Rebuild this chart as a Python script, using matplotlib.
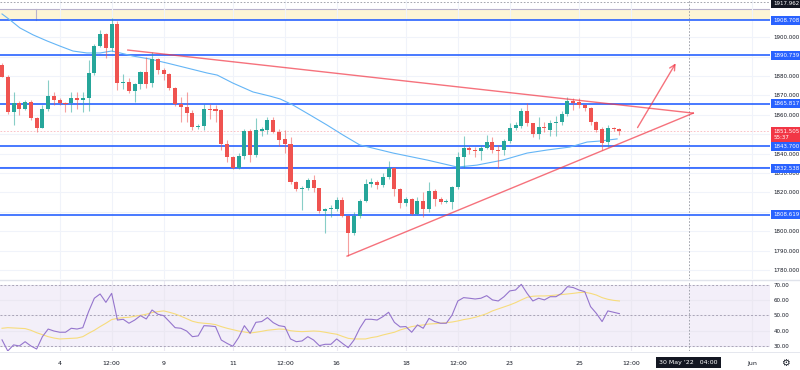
import matplotlib.pyplot as plt
import matplotlib.transforms as mtransforms
from matplotlib.lines import Line2D
import numpy as np

# 4H candles (index 0 = first visible candle)
opens = [1885.7, 1879.7, 1861.6, 1866.1, 1862.9, 1866.8, 1858.5, 1853.4, 1863.0, 1869.7,
         1867.7, 1866.2, 1866.0, 1868.5, 1867.5, 1868.5, 1881.4, 1895.6, 1901.5, 1894.3,
         1906.8, 1876.3, 1877.1, 1872.3, 1875.7, 1881.9, 1876.2, 1888.8, 1883.3, 1881.1,
         1873.7, 1865.6, 1864.2, 1860.8, 1853.9, 1854.2, 1863.0, 1862.8, 1862.5, 1845.0,
         1838.4, 1832.4, 1839.0, 1851.7, 1839.3, 1851.5, 1852.2, 1857.3, 1851.3, 1847.4,
         1845.0, 1825.2, 1821.7, 1822.4, 1826.4, 1822.1, 1810.6, 1811.4, 1811.3, 1816.1,
         1807.9, 1798.9, 1807.9, 1815.6, 1824.4, 1825.5, 1823.8, 1827.8, 1832.6, 1821.6,
         1814.7, 1816.5, 1808.9, 1815.7, 1811.3, 1820.9, 1816.5, 1815.3, 1815.3, 1822.6,
         1838.1, 1843.1, 1842.0, 1841.4, 1843.1, 1846.1, 1841.7, 1841.7, 1846.5, 1853.4,
         1854.3, 1861.8, 1855.6, 1850.0, 1853.9, 1852.0, 1855.6, 1856.2, 1860.3, 1867.2,
         1866.8, 1865.1, 1863.4, 1856.2, 1852.6, 1845.8, 1853.4, 1852.7]
highs = [1886.7, 1880.5, 1871.9, 1867.1, 1867.5, 1867.5, 1859.0, 1865.1, 1877.8, 1871.6,
         1868.5, 1866.5, 1871.9, 1871.9, 1871.6, 1888.3, 1896.5, 1903.5, 1902.3, 1909.8,
         1908.5, 1881.0, 1879.0, 1876.5, 1882.5, 1890.0, 1892.6, 1889.3, 1884.0, 1881.5,
         1874.2, 1869.0, 1871.6, 1862.5, 1855.5, 1865.6, 1865.6, 1865.0, 1863.0, 1847.0,
         1839.0, 1840.4, 1852.7, 1852.7, 1858.2, 1854.0, 1859.0, 1858.7, 1852.5, 1852.2,
         1848.7, 1826.0, 1823.5, 1827.5, 1829.0, 1822.5, 1812.0, 1813.5, 1817.5, 1817.5,
         1808.5, 1810.0, 1816.5, 1826.8, 1827.3, 1826.5, 1830.0, 1836.2, 1833.0, 1822.5,
         1817.5, 1817.0, 1817.5, 1820.4, 1825.3, 1822.0, 1817.5, 1816.5, 1823.5, 1841.0,
         1849.3, 1844.0, 1843.5, 1844.5, 1849.6, 1848.4, 1844.5, 1847.5, 1855.6, 1856.5,
         1863.4, 1866.0, 1856.0, 1859.0, 1856.4, 1857.5, 1859.6, 1862.0, 1869.3, 1868.5,
         1868.5, 1865.5, 1864.0, 1857.0, 1853.5, 1854.8, 1854.0, 1853.4]
lows = [1879.5, 1860.4, 1854.8, 1859.9, 1862.5, 1857.3, 1851.0, 1853.0, 1862.1, 1865.1,
        1865.0, 1861.6, 1861.6, 1862.9, 1861.6, 1862.0, 1880.8, 1894.8, 1889.5, 1893.0,
        1872.8, 1873.3, 1871.5, 1866.5, 1873.3, 1874.0, 1874.5, 1881.0, 1878.0, 1872.8,
        1864.6, 1856.5, 1856.5, 1852.2, 1852.5, 1852.2, 1857.7, 1856.5, 1841.9, 1835.9,
        1832.0, 1832.0, 1837.2, 1835.5, 1838.4, 1849.0, 1850.0, 1850.5, 1844.0, 1840.2,
        1824.3, 1820.8, 1811.0, 1821.5, 1820.4, 1809.3, 1799.3, 1807.2, 1810.5, 1807.5,
        1787.2, 1798.0, 1807.0, 1815.0, 1823.0, 1822.0, 1823.0, 1826.8, 1818.2, 1812.0,
        1813.0, 1808.5, 1808.5, 1807.5, 1810.0, 1813.0, 1814.0, 1814.5, 1811.3, 1822.0,
        1832.4, 1840.0, 1838.5, 1836.7, 1842.5, 1840.5, 1832.5, 1839.5, 1845.5, 1852.0,
        1853.0, 1854.5, 1848.4, 1847.4, 1851.0, 1849.0, 1849.0, 1855.0, 1859.6, 1862.5,
        1863.5, 1862.0, 1855.0, 1851.0, 1841.9, 1843.6, 1851.5, 1849.6]
closes = [1879.7, 1861.6, 1866.1, 1862.9, 1866.8, 1858.5, 1853.4, 1863.0, 1869.7, 1867.7,
          1866.0, 1865.8, 1868.5, 1867.5, 1868.5, 1881.4, 1895.6, 1901.5, 1894.3, 1906.8,
          1876.3, 1877.1, 1872.3, 1875.7, 1881.9, 1875.7, 1888.8, 1883.3, 1881.1, 1873.7,
          1865.6, 1864.2, 1860.8, 1853.9, 1854.3, 1863.0, 1862.4, 1861.8, 1845.0, 1838.4,
          1832.4, 1839.0, 1851.7, 1839.3, 1852.2, 1852.6, 1857.3, 1851.3, 1847.0, 1845.0,
          1825.2, 1821.6, 1822.4, 1826.4, 1822.1, 1810.6, 1811.3, 1811.8, 1816.1, 1807.9,
          1798.9, 1807.9, 1815.6, 1824.4, 1825.5, 1823.8, 1827.8, 1832.6, 1821.6, 1814.7,
          1816.5, 1808.9, 1815.7, 1811.3, 1820.9, 1816.5, 1815.3, 1815.6, 1822.6, 1838.1,
          1843.1, 1842.0, 1841.4, 1843.1, 1846.1, 1841.7, 1841.5, 1846.5, 1853.4, 1854.8,
          1861.8, 1855.6, 1850.0, 1853.9, 1853.2, 1855.6, 1856.0, 1860.3, 1867.1, 1866.3,
          1865.1, 1863.4, 1856.2, 1852.2, 1845.3, 1853.4, 1852.6, 1851.5]

rsi = [34.0, 26.7, 30.7, 30.0, 32.8, 30.0, 28.0, 36.1, 41.1, 39.8,
       39.0, 39.0, 41.6, 41.1, 42.0, 52.5, 61.3, 64.1, 58.6, 64.5,
       47.0, 47.5, 44.9, 47.0, 49.9, 47.7, 53.6, 50.8, 49.9, 46.0,
       42.0, 41.6, 39.8, 36.1, 36.6, 43.3, 43.1, 42.7, 33.9, 31.7,
       29.8, 35.5, 43.3, 38.3, 45.5, 46.0, 48.6, 45.3, 43.3, 42.7,
       34.6, 32.8, 33.3, 36.1, 33.9, 30.2, 31.1, 31.1, 34.6, 31.7,
       28.9, 33.9, 41.6, 47.5, 47.5, 47.0, 49.2, 52.1, 45.5, 42.5,
       42.7, 39.0, 43.8, 41.6, 48.1, 46.0, 44.9, 44.9, 50.3, 59.5,
       61.7, 61.3, 60.8, 61.3, 63.0, 60.2, 59.5, 62.3, 66.1, 66.7,
       70.4, 64.5, 59.5, 61.3, 60.2, 62.3, 62.3, 64.5, 68.9, 68.3,
       66.7, 65.6, 55.8, 51.4, 46.0, 53.0, 52.1, 51.2]
rsi_ma = [41.6, 42.0, 41.8, 41.6, 41.4, 40.3, 38.7, 37.4, 36.1, 35.2,
          34.6, 34.8, 35.0, 35.2, 36.1, 38.3, 40.3, 42.7, 44.9, 47.3,
          48.1, 48.6, 48.8, 49.5, 50.1, 50.8, 51.9, 52.5, 53.0, 52.1,
          51.0, 49.5, 47.9, 46.2, 45.3, 44.9, 44.6, 44.0, 42.7, 41.6,
          40.7, 39.8, 39.2, 38.5, 39.0, 39.6, 40.3, 40.7, 41.1, 40.9,
          40.0, 39.6, 39.4, 39.6, 39.8, 39.6, 39.0, 38.3, 37.7, 36.3,
          35.0, 34.6, 34.6, 34.6, 35.5, 36.1, 37.2, 38.1, 39.0, 40.5,
          41.6, 42.7, 43.3, 43.8, 44.4, 44.6, 44.9, 45.3, 45.7, 46.4,
          47.3, 47.9, 48.8, 49.9, 51.2, 53.0, 54.3, 55.6, 56.9, 58.4,
          60.2, 61.9, 62.6, 62.8, 62.8, 63.0, 63.4, 63.7, 64.1, 64.5,
          65.0, 65.2, 64.5, 63.4, 61.7, 60.6, 59.9, 59.5]

# moving average (blue) read at these candle positions
ma_idx = [0, 1.4, 3.1, 5.4, 7.8, 10, 12.3, 14.7, 17, 19, 20.5, 22.7, 25.6, 28.6, 32,
          35.5, 37.3, 40, 43.5, 46.4, 48.2, 50.4, 53.4, 56.3, 59.1, 62, 67.8, 73.7,
          78.9, 82.3, 86.8, 91, 94.5, 98.4, 101.4, 103.6, 106.6]
ma_val = [1912.0, 1908.9, 1904.8, 1901.2, 1898.1, 1895.5, 1892.9, 1891.9, 1891.9, 1892.9,
          1891.9, 1890.3, 1888.8, 1886.7, 1884.2, 1881.6, 1880.5, 1876.4, 1871.8, 1869.7,
          1868.2, 1865.1, 1859.9, 1854.8, 1849.6, 1844.5, 1840.3, 1836.7, 1833.1, 1834.1,
          1836.7, 1840.3, 1841.9, 1843.4, 1846.0, 1846.5, 1847.6]

levels = [1908.708, 1890.739, 1865.817, 1843.700, 1832.538, 1808.619]
zone = [1908.708, 1914.4]
last_price = 1851.505
cross_price = 1917.962
cross_idx = 119

upper_x, upper_y = [21.8, 119.8], [1893.4, 1860.9]
lower_x, lower_y = [59.8, 119.8], [1787.2, 1860.9]
arrow_x, arrow_y = [109.9, 117.0], [1852.2, 1887.8]

price_ticks = [1780, 1790, 1800, 1810, 1820, 1830, 1840, 1850, 1860, 1870, 1880, 1890, 1900]
hidden_ticks = [1850, 1890]   # covered by the level boxes in the original
tick_pos = [10, 19, 28, 40, 49, 58, 70, 79, 88, 100, 109, 130]
tick_lbl = ['4', '12:00', '9', '11', '12:00', '16', '18', '12:00', '23', '25', '12:00', 'Jun']

green = '#26a69a'
red = '#ef5350'
lvl_blue = '#2962ff'
txt = '#131722'

fig = plt.figure(figsize=(8, 3.7), dpi=100)
ax = fig.add_axes([0, 1 - 279 / 370, 770 / 800, 279 / 370])
ax2 = fig.add_axes([0, 19 / 370, 770 / 800, 70 / 370])

n = len(opens)
xs = np.arange(n)

# grid
ax.set_xlim(-0.35, 133.1)
ax.set_ylim(1775.4, 1919.2)
ax.set_yticks(price_ticks)
ax.set_yticklabels(['' if v in hidden_ticks else '%.3f' % v for v in price_ticks])
ax.set_xticks(tick_pos)
ax.set_xticklabels([])
ax.grid(color='#f0f3fa', lw=0.8)
ax.yaxis.tick_right()
ax.tick_params(axis='y', length=0, labelsize=4, pad=2.5, labelcolor=txt)
ax.tick_params(axis='x', length=0)
for s in ax.spines.values():
    s.set_visible(False)

# zone at top
ax.axhspan(zone[0], zone[1], color='#fdf5d6', lw=0, zorder=1)
ax.axhline(zone[1], color='#b9b3cc', lw=0.8, zorder=1.5)
ax.plot([5.9, 5.9], zone, color='#b9b3cc', lw=0.8)

# crosshair
ax.axhline(cross_price, color='#9598a1', lw=0.6, ls=(0, (2, 2)))
ax.axvline(cross_idx, color='#9598a1', lw=0.6, ls=(0, (2, 2)))
ax.axhline(last_price, color='#f23645', lw=0.6, ls=(0, (2, 2)), alpha=0.35)

for lv in levels:
    ax.axhline(lv, color=lvl_blue, lw=1.2, zorder=2)
ax.axhline(1833.2, color='#90a8ff', lw=0.8, alpha=0.6, zorder=1.8)

ax.plot(ma_idx, ma_val, color='#64b5f6', lw=0.8, zorder=3)

# candles
for i in range(n):
    o, h, l, c = opens[i], highs[i], lows[i], closes[i]
    col = green if c >= o else red
    ax.vlines(i, l, h, color=col, lw=0.8, alpha=0.55, zorder=4)
    ax.bar(i, max(abs(c - o), 0.5), bottom=min(o, c), width=0.7, color=col, lw=0, zorder=5)

# triangle and arrow
ax.plot(upper_x, upper_y, color='#f23645', lw=1, alpha=0.7, zorder=6)
ax.plot(lower_x, lower_y, color='#f23645', lw=1, alpha=0.7, zorder=6)
ax.annotate('', xy=(arrow_x[1], arrow_y[1]), xytext=(arrow_x[0], arrow_y[0]),
            arrowprops=dict(arrowstyle='->', color='#f23645', lw=1, alpha=0.7), zorder=6)

# price axis labels
tr = mtransforms.blended_transform_factory(ax.transAxes, ax.transData)
for lv in levels:
    ax.text(1.004, lv, '%.3f' % lv, transform=tr, fontsize=4, color='white', ha='left', va='center',
            clip_on=False, zorder=10,
            bbox=dict(boxstyle='square,pad=0.35', fc=lvl_blue, ec='none'))
ax.text(1.004, 1849.9, '%.3f\n55:37' % last_price, transform=tr, fontsize=4, color='white',
        ha='left', va='center', clip_on=False, zorder=10, linespacing=1.3,
        bbox=dict(boxstyle='square,pad=0.35', fc='#f23645', ec='none'))
ax.text(1.004, 1917.6, '%.3f' % cross_price, transform=tr, fontsize=4, color='white',
        ha='left', va='center', clip_on=False, zorder=10,
        bbox=dict(boxstyle='square,pad=0.35', fc=txt, ec='none'))

# RSI pane
ax2.set_xlim(-0.35, 133.1)
ax2.set_ylim(26.7, 72.6)
ax2.axhspan(30, 70, color='#7e57c2', alpha=0.09, lw=0)
ax2.set_yticks([30, 40, 50, 60, 70])
ax2.set_yticklabels(['%.2f' % v for v in [30, 40, 50, 60, 70]])
ax2.set_xticks(tick_pos)
ax2.set_xticklabels(tick_lbl)
ax2.grid(color='#ebe8f2', lw=0.8)
ax2.yaxis.tick_right()
ax2.tick_params(axis='y', length=0, labelsize=4, pad=2.5, labelcolor=txt)
ax2.tick_params(axis='x', length=0, labelsize=4.5, pad=7, labelcolor=txt)
for s in ax2.spines.values():
    s.set_visible(False)
for v in [30, 50, 70]:
    ax2.axhline(v, color='#a9a4b8', lw=0.7, ls=(0, (2, 2)))
ax2.axvline(cross_idx, color='#9598a1', lw=0.6, ls=(0, (2, 2)))
ax2.plot(xs, rsi_ma, color='#f7dc7c', lw=0.8)
ax2.plot(xs, rsi, color='#9575cd', lw=0.8)

tr2 = mtransforms.blended_transform_factory(ax2.transData, ax2.transAxes)
ax2.text(cross_idx, -0.16, "30 May '22   04:00", transform=tr2, fontsize=4.5, color='white',
         ha='center', va='center', clip_on=False, zorder=10,
         bbox=dict(boxstyle='square,pad=0.5', fc=txt, ec='none'))

fig.add_artist(Line2D([0, 1], [1 - 280 / 370] * 2, color='#e0e3eb', lw=1))
fig.add_artist(Line2D([0, 1], [1 - 352 / 370] * 2, color='#e0e3eb', lw=0.6))
fig.text(785 / 800, 1 - 363 / 370, '\u2699', fontsize=7, ha='center', va='center', color=txt)

fig.savefig('out.png', dpi=100, facecolor='white')
